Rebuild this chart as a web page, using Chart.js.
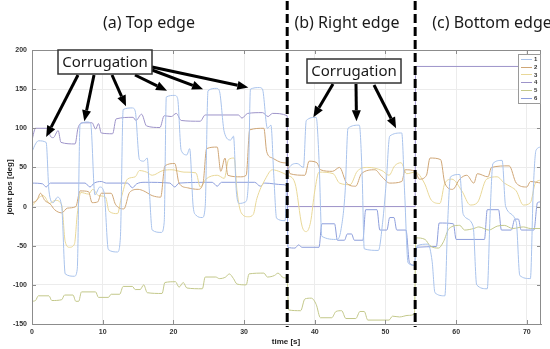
<!DOCTYPE html>
<html>
<head>
<meta charset="utf-8">
<script src="https://cdn.jsdelivr.net/npm/chart.js@4"></script>
<style>
  html, body { margin: 0; padding: 0; background: #fff; }
  #wrap { width: 550px; height: 349px; }
</style>
</head>
<body>
<div id="wrap"><canvas id="jointChart" width="550" height="349"></canvas></div>
<script>
// ---- data: [time s, joint pos deg] ----
const xTicks = [0, 10, 20, 30, 40, 50, 60, 70];
const yTicks = [-150, -100, -50, 0, 50, 100, 150, 200];
const legendLabels = ['1', '2', '3', '4', '5', '6'];
const sectionTitles = ['(a) Top edge', '(b) Right edge', '(c) Bottom edge'];
const sectionBounds = [36.1, 54.2];
const noteText = 'Corrugation';

const joint1 = [
  [0, 70], [0.5, 80], [0.9, 84], [2.0, 82], [2.4, 20], [3.0, 5], [3.6, 12], [4.2, 0], [4.7, -86], [6.0, -89],
  [6.4, -80], [6.8, 105], [7.9, 108], [8.3, 106], [8.9, 15], [9.6, 25], [10.2, 18], [10.8, -55], [12.1, -58],
  [12.5, -40], [12.9, 124], [14.2, 126], [14.6, 122], [15.2, 60], [15.8, 58], [16.3, 62], [16.6, 20], [17.0, -30],
  [18.3, -33], [18.7, -20], [19.0, 140], [20.2, 142], [20.6, 138], [21.1, 72], [21.9, 66], [22.3, 74], [22.8, 0],
  [23.2, -11], [24.1, -14], [24.5, 0], [24.9, 148], [26.1, 151], [26.5, 148], [27.2, 95], [28.1, 85], [28.5, 90],
  [28.9, 20], [29.3, 4], [30.2, 6], [30.6, 30], [30.9, 150], [32.2, 152], [32.6, 150], [33.3, 100], [33.8, 104],
  [34.2, 40], [34.6, -15], [35.8, -18], [36.1, 45], [37.5, 55], [38.4, 50], [38.8, 110], [40.2, 114], [40.6, 60],
  [41.0, -38], [43.2, -42], [43.7, -30], [44.3, 20], [44.7, 100], [46.3, 104], [46.7, 40], [47.0, -54], [49.0, -56],
  [49.6, -20], [50.1, 30], [50.6, 90], [52.3, 94], [52.7, 20], [53.2, -72], [54.1, -75], [54.5, -50], [56.0, -48],
  [56.6, -70], [57.0, -110], [58.4, -114], [58.8, -20], [59.2, 38], [60.5, 41], [61.0, -10], [62.4, -25],
  [62.9, -100], [64.4, -105], [64.8, -10], [65.2, 55], [66.5, 59], [67.0, 0], [68.5, -20], [69.0, -88],
  [70.5, -92], [70.9, 20], [71.3, 72], [72, 76]
];
const joint2 = [
  [0, 5], [0.7, 8], [1.2, 17], [1.8, 8], [2.6, 3], [3.2, -4], [4.2, -8], [5.0, -2], [6.2, 0], [6.8, 20], [8.0, 19],
  [8.5, 5], [9.3, 6], [9.8, 17], [11.2, 17], [11.8, 3], [13.0, -3], [13.8, 18], [15.0, 22], [15.8, 20], [17.0, 14],
  [18.2, 12], [18.8, 52], [20.2, 55], [20.8, 30], [22.0, 24], [23.5, 22], [24.2, 30], [24.7, 74], [26.2, 76],
  [26.7, 45], [27.3, 62], [27.7, 40], [29.5, 38], [30.3, 40], [30.8, 98], [32.8, 100], [33.2, 70], [34.0, 62],
  [35.5, 56], [36.1, 55], [36.5, 42], [38.6, 40], [39.2, 58], [40.3, 56], [40.8, 47], [42.5, 45], [43.5, 50],
  [44.5, 30], [45.8, 26], [46.6, 42], [48.5, 47], [49.5, 38], [50.6, 30], [52.3, 32], [52.8, 47], [54.2, 45],
  [54.8, 35], [55.8, 40], [56.3, 62], [57.8, 60], [58.4, 30], [59.5, 22], [60.5, 35], [61.5, 40], [62.5, 30],
  [63.0, 42], [64.5, 38], [65.0, 50], [67.5, 52], [68.5, 30], [70.0, 25], [70.5, 32], [72, 30]
];
const joint3 = [
  [0, 0], [0.8, 10], [1.6, 14], [2.5, 4], [3.3, 8], [4.2, 2], [4.7, -45], [5.3, -52], [6.0, -48], [6.4, -10],
  [6.9, 18], [8.0, 16], [8.6, 22], [9.4, 14], [10.4, 12], [10.9, -6], [12.1, -9], [12.6, 10], [13.5, 35],
  [14.6, 38], [15.2, 46], [16.2, 44], [17.0, 40], [18.5, 46], [19.8, 47], [21.5, 44], [23.2, 43], [23.8, 25],
  [24.6, 35], [26.2, 40], [27.2, 36], [27.8, 60], [28.6, 62], [29.0, 20], [29.6, -8], [30.6, -13], [31.3, -10],
  [31.8, 10], [33.0, 35], [34.0, 47], [35.2, 44], [36.1, 40], [37.2, 30], [38.2, -25], [38.8, -32], [39.4, -20],
  [40.0, 20], [40.6, 44], [42.6, 42], [43.5, 30], [45.0, 28], [46.0, 45], [47.5, 50], [49.5, 46], [50.5, 40],
  [51.3, 52], [52.2, 56], [53.0, 42], [54.2, 44], [55.5, 30], [56.5, 8], [57.7, 4], [58.4, 30], [59.4, 35],
  [60.8, 20], [62.0, 2], [63.0, 5], [64.3, 35], [65.8, 38], [66.8, 30], [67.8, 25], [68.5, 20], [69.5, 2],
  [70.5, 5], [71.2, 30], [72, 34]
];
const joint4 = [
  [0, 85], [0.5, 100], [2.2, 100], [2.6, 90], [3.0, 88], [3.7, 97], [4.1, 82], [6.1, 80], [6.5, 100], [7.1, 107],
  [8.5, 107], [9.0, 99], [9.4, 106], [9.8, 94], [11.4, 93], [11.9, 112], [14.3, 114], [14.7, 110], [15.5, 118],
  [16.2, 103], [18.1, 101], [18.7, 116], [19.7, 115], [20.4, 119], [21.1, 110], [23.8, 109], [24.5, 117],
  [29.2, 117], [29.7, 113], [30.5, 119], [32.6, 120], [33.4, 115], [34.0, 119], [36.1, 116], [36.15, 0],
  [54.2, 0], [54.25, 179], [72, 179]
];
const joint5 = [
  [0, -121], [0.5, -120], [0.9, -114], [2.4, -114], [2.8, -120], [4.2, -119], [4.6, -113], [5.8, -113],
  [6.2, -121], [6.6, -121], [7.0, -109], [9.0, -109], [9.4, -116], [10.8, -116], [11.2, -112], [12.4, -112],
  [12.9, -102], [14.2, -102], [14.6, -106], [15.3, -106], [15.8, -100], [16.3, -110], [18.4, -111], [18.8, -97],
  [20.3, -96], [20.8, -103], [21.4, -97], [21.9, -104], [24.1, -105], [24.5, -90], [26.0, -90], [26.5, -92],
  [27.4, -90], [27.9, -86], [28.5, -92], [29.0, -99], [30.3, -100], [30.7, -86], [32.8, -85], [33.3, -90],
  [34.3, -88], [34.8, -85], [35.6, -91], [36.1, -92], [36.3, -132], [38.0, -133], [38.6, -118], [39.5, -117],
  [40.2, -125], [40.8, -142], [42.4, -142], [43.0, -134], [43.8, -133], [44.4, -143], [45.8, -143], [46.4, -134],
  [47.0, -134], [47.5, -145], [50.5, -145], [51.0, -140], [52.0, -141], [53.2, -139], [54.1, -137], [54.3, -40],
  [55.6, -42], [56.3, -50], [57.5, -53], [58.2, -45], [59.0, -28], [60.5, -24], [61.2, -30], [62.5, -28],
  [63.2, -26], [64.6, -30], [65.8, -25], [66.8, -24], [68.0, -28], [69.5, -26], [70.5, -28], [72, -28]
];
const joint6 = [
  [0, 30], [1.5, 29], [2.0, 25], [2.6, 30], [7.5, 30], [8.2, 25], [8.8, 30], [9.8, 32], [10.5, 30], [13.5, 30],
  [14.2, 24], [14.8, 29], [16, 31], [19.5, 30], [20.2, 25], [20.8, 30], [25.5, 31], [26.2, 26], [26.8, 31],
  [31.5, 31], [32.3, 26], [32.9, 30], [35.5, 28], [36.1, 25], [36.2, -52], [37.2, -53], [37.7, -49], [38.2, -52],
  [40.6, -52], [41.0, -22], [42.8, -22], [43.2, -43], [44.2, -43], [44.6, -35], [45.2, -35], [45.6, -43],
  [46.8, -43], [47.2, -4], [48.8, -4], [49.2, -30], [50.2, -30], [50.6, -14], [51.2, -14], [51.6, -30],
  [52.9, -30], [53.4, -72], [54.1, -75], [54.3, -52], [57.2, -51], [57.6, -21], [59.6, -22], [60.0, -42],
  [64.0, -42], [64.4, -4], [66.0, -4], [66.4, -30], [67.8, -30], [68.3, -16], [68.8, -16], [69.2, -30],
  [71.0, -30], [71.5, 5], [72, 6]
];

const seriesList = [joint1, joint2, joint3, joint4, joint5, joint6];
const seriesColors = ['#a9c3ec', '#cfa676', '#e9d898', '#9d93c9', '#c3c88a', '#8d9edc'];

// ---- overlay: frame, section dividers, titles, corrugation notes, legend, axis titles ----
function arrow(ctx, x0, y0, x1, y1) {
  const ang = Math.atan2(y1 - y0, x1 - x0);
  const head = 11, half = 4.5;
  const bx = x1 - head * Math.cos(ang), by = y1 - head * Math.sin(ang);
  ctx.beginPath();
  ctx.moveTo(x0, y0);
  ctx.lineTo(bx, by);
  ctx.stroke();
  ctx.beginPath();
  ctx.moveTo(x1, y1);
  ctx.lineTo(bx + half * Math.sin(ang), by - half * Math.cos(ang));
  ctx.lineTo(bx - half * Math.sin(ang), by + half * Math.cos(ang));
  ctx.closePath();
  ctx.fill();
}

const overlay = {
  id: 'overlay',
  afterDatasetsDraw(chart) {
    const { ctx, chartArea: a, scales: { x, y } } = chart;
    ctx.save();

    // box and inward ticks (matlab style)
    ctx.strokeStyle = '#8c8c8c';
    ctx.lineWidth = 1;
    ctx.strokeRect(a.left + 0.5, a.top + 0.5, a.right - a.left - 1, a.bottom - a.top);
    ctx.beginPath();
    xTicks.forEach(v => {
      const px = Math.round(x.getPixelForValue(v)) + 0.5;
      ctx.moveTo(px, a.bottom); ctx.lineTo(px, a.bottom - 4);
      ctx.moveTo(px, a.top); ctx.lineTo(px, a.top + 4);
    });
    yTicks.forEach(v => {
      const py = Math.round(y.getPixelForValue(v)) + 0.5;
      ctx.moveTo(a.left, py); ctx.lineTo(a.left + 4, py);
      ctx.moveTo(a.right, py); ctx.lineTo(a.right - 4, py);
    });
    ctx.stroke();

    // legend box
    const lx = a.right - 23, ly = a.top + 4;
    ctx.fillStyle = '#fff';
    ctx.fillRect(lx, ly, 22, 49);
    ctx.strokeStyle = '#9a9a9a';
    ctx.strokeRect(lx + 0.5, ly + 0.5, 22, 49);
    ctx.font = 'bold 6px "Liberation Sans", Arial, sans-serif';
    ctx.textAlign = 'left';
    ctx.textBaseline = 'middle';
    legendLabels.forEach((lab, i) => {
      const yy = ly + 5 + i * 7.7;
      ctx.strokeStyle = seriesColors[i];
      ctx.beginPath();
      ctx.moveTo(lx + 3, Math.round(yy) + 0.5);
      ctx.lineTo(lx + 14, Math.round(yy) + 0.5);
      ctx.stroke();
      ctx.fillStyle = '#333';
      ctx.fillText(lab, lx + 16, yy + 0.5);
    });

    // section dividers
    ctx.strokeStyle = '#000';
    ctx.lineWidth = 3;
    ctx.setLineDash([9, 4]);
    sectionBounds.forEach(t => {
      const px = x.getPixelForValue(t);
      ctx.beginPath();
      ctx.moveTo(px, 1);
      ctx.lineTo(px, a.bottom + 3);
      ctx.stroke();
    });
    ctx.setLineDash([]);

    // section titles
    ctx.fillStyle = '#1a1a1a';
    ctx.font = '16px "Noto Sans", "Open Sans", sans-serif';
    ctx.textAlign = 'center';
    ctx.textBaseline = 'middle';
    const titleX = [149, 347, 492];
    sectionTitles.forEach((s, i) => ctx.fillText(s, titleX[i], 23));

    // corrugation notes
    const notes = [
      { box: [58, 50, 94, 24], from: [[78, 75], [94, 75], [112, 75], [135, 75], [152, 70], [152, 67]],
        to: [[2.0, 89], [7.4, 109], [13.3, 128], [19.1, 148], [24.2, 150], [30.6, 152]] },
      { box: [307, 59, 94, 24], from: [[333, 84], [356, 84], [374, 85]],
        to: [[39.8, 114], [45.9, 109], [51.5, 100]] }
    ];
    notes.forEach(n => {
      ctx.strokeStyle = '#000';
      ctx.fillStyle = '#000';
      ctx.lineWidth = 3;
      n.from.forEach((f, i) => {
        arrow(ctx, f[0], f[1], x.getPixelForValue(n.to[i][0]), y.getPixelForValue(n.to[i][1]));
      });
      const [bx, by, bw, bh] = n.box;
      ctx.fillStyle = '#fff';
      ctx.fillRect(bx, by, bw, bh);
      ctx.lineWidth = 1.5;
      ctx.strokeStyle = '#333';
      ctx.strokeRect(bx, by, bw, bh);
      ctx.fillStyle = '#1a1a1a';
      ctx.font = '15px "Noto Sans", "Open Sans", sans-serif';
      ctx.textAlign = 'center';
      ctx.textBaseline = 'middle';
      ctx.fillText(noteText, bx + bw / 2, by + bh / 2 + 0.5);
    });

    // axis titles
    ctx.fillStyle = '#222';
    ctx.font = 'bold 8px "Liberation Sans", Arial, sans-serif';
    ctx.fillText('time [s]', 286, 342);
    ctx.translate(10, (a.top + a.bottom) / 2);
    ctx.rotate(-Math.PI / 2);
    ctx.fillText('joint pos [deg]', 0, 0);

    ctx.restore();
  }
};

const tickFont = { family: '"Liberation Sans", Arial, sans-serif', size: 7, weight: 'bold' };

new Chart(document.getElementById('jointChart'), {
  type: 'line',
  data: {
    datasets: seriesList.map((s, i) => ({
      label: legendLabels[i],
      data: s.map(([t, v]) => ({ x: t, y: v })),
      borderColor: seriesColors[i],
      borderWidth: 1,
      pointRadius: 0,
      fill: false,
      cubicInterpolationMode: 'monotone'
    }))
  },
  options: {
    responsive: false,
    animation: false,
    devicePixelRatio: 1,
    layout: { padding: { top: 50, right: 9, left: 0, bottom: 0 } },
    plugins: { legend: { display: false }, tooltip: { enabled: false } },
    scales: {
      x: {
        type: 'linear',
        min: 0,
        max: 72,
        afterBuildTicks: s => { s.ticks = xTicks.map(v => ({ value: v })); },
        afterFit: s => { s.height = 25; },
        grid: { color: '#ececec', drawTicks: false },
        border: { color: '#8c8c8c' },
        ticks: { font: tickFont, color: '#333', padding: 4, maxRotation: 0, autoSkip: false }
      },
      y: {
        min: -150,
        max: 200,
        afterBuildTicks: s => { s.ticks = yTicks.map(v => ({ value: v })); },
        afterFit: s => { s.width = 32; },
        grid: { color: '#ececec', drawTicks: false },
        border: { color: '#8c8c8c' },
        ticks: { font: tickFont, color: '#333', padding: 5 }
      }
    }
  },
  plugins: [overlay]
});
</script>
</body>
</html>
